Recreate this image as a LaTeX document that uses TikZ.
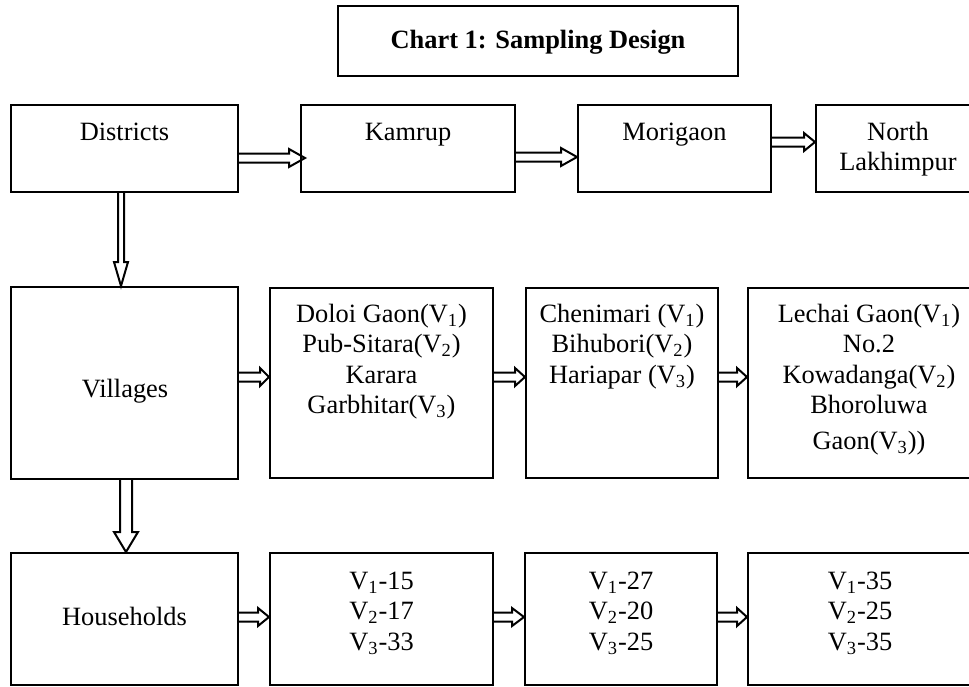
\documentclass[tikz,border=0pt]{standalone}
\usepackage{fontspec}
\setmainfont{Liberation Serif}
\usetikzlibrary{calc}
\newcommand\fl{\rule{0pt}{10pt}}
\newcommand\sbs[1]{\textsubscript{#1}}
\newcommand\rectnode[5]{%
  \node[boxst, minimum width={(#4-#2)*0.5pt}, minimum height={(#5-#3)*0.5pt}] (#1) at ({(#2+#4)/2},{(#3+#5)/2}) {};}
\begin{document}
\begin{tikzpicture}[x=0.5pt,y=-0.5pt,
  boxst/.style={draw, line width=1pt, inner sep=0pt},
  txt/.style={inner sep=0pt, align=center, font=\fontsize{13.2}{15.25}\selectfont, anchor=north},
  stxt/.style={inner sep=0pt, font=\fontsize{13.2}{15.25}\selectfont, anchor=base},
  blk/.style={draw, line width=1pt, line join=miter},
  harrow/.style n args={3}{to path={let \p1=(\tikztostart),\p2=(\tikztotarget) in
     (\x1,\y1+#1) -- (\x2-#3,\y1+#1) -- (\x2-#3,\y1+#2) -- (\x2,\y1) -- (\x2-#3,\y1-#2) -- (\x2-#3,\y1-#1) -- (\x1,\y1-#1)}},
  varrow/.style n args={3}{to path={let \p1=(\tikztostart),\p2=(\tikztotarget) in
     (\x1-#1,\y1) -- (\x1-#1,\y2+#3) -- (\x1-#2,\y2+#3) -- (\x1,\y2) -- (\x1+#2,\y2+#3) -- (\x1+#1,\y2+#3) -- (\x1+#1,\y1)}},
]
\clip (0,0) rectangle (969,686);
% title
\rectnode{title}{338}{6}{738}{76}
\node[stxt, font=\fontsize{13.2}{15.25}\selectfont\bfseries] (titletext) at (538,48) {Chart 1: Sampling Design};
% top row
\rectnode{dist}{11}{105}{238}{192}
\rectnode{kam}{301}{105}{515}{192}
\rectnode{mor}{578}{105}{771}{192}
\rectnode{nl}{816}{105}{980}{192}
\node[txt] (distt) at (124.5,120) {\fl Districts};
\node[txt] (kamt) at (408,120) {\fl Kamrup};
\node[txt] (mort) at (674.5,120) {\fl Morigaon};
\node[txt] (nlt) at (898,120) {\fl North\\Lakhimpur};
% middle row
\rectnode{vil}{11}{287}{238}{479}
\rectnode{dol}{270}{288}{493}{478}
\rectnode{che}{526}{288}{718}{478}
\rectnode{lec}{748}{288}{990}{478}
\node[stxt] (vilt) at (125,397) {Villages};
\node[txt] (dolt) at (381.5,302) {\fl Doloi Gaon(V\sbs{1})\\Pub-Sitara(V\sbs{2})\\Karara\\Garbhitar(V\sbs{3})};
\node[txt] (chet) at (622,302) {\fl Chenimari (V\sbs{1})\\Bihubori(V\sbs{2})\\Hariapar (V\sbs{3})};
\node[txt] (lect) at (869,302) {\fl Lechai Gaon(V\sbs{1})\\No.2\\Kowadanga(V\sbs{2})\\Bhoroluwa\\[2.5pt]Gaon(V\sbs{3}))};
% bottom row
\rectnode{hh}{11}{553}{238}{685}
\rectnode{ka}{270}{553}{493}{685}
\rectnode{mo}{525}{553}{717}{685}
\rectnode{no}{748}{553}{972}{685}
\node[stxt] (hht) at (124.5,625) {Households};
\node[txt] (kat) at (381.5,569) {\fl V\sbs{1}-15\\V\sbs{2}-17\\V\sbs{3}-33};
\node[txt] (mot) at (621,569) {\fl V\sbs{1}-27\\V\sbs{2}-20\\V\sbs{3}-25};
\node[txt] (not) at (860,569) {\fl V\sbs{1}-35\\V\sbs{2}-25\\V\sbs{3}-35};
% horizontal arrows
\draw[blk] ([yshift=-4.75pt]dist.east) to[harrow={2.25pt}{4.5pt}{8pt}] ([yshift=-4.75pt,xshift=2.5pt]kam.west);
\draw[blk] ([yshift=-4.25pt]kam.east) to[harrow={2.25pt}{4.5pt}{8pt}] ([yshift=-4.25pt]mor.west);
\draw[blk] ([yshift=3.25pt]mor.east) to[harrow={2.25pt}{4.5pt}{5.5pt}] ([yshift=3.25pt]nl.west);
\draw[blk] ([yshift=3pt]vil.east) to[harrow={2.25pt}{4.5pt}{4.5pt}] ([yshift=3pt]dol.west);
\draw[blk] ([yshift=3pt]dol.east) to[harrow={2.25pt}{4.5pt}{5pt}] ([yshift=3pt]che.west);
\draw[blk] ([yshift=3pt]che.east) to[harrow={2.25pt}{4.5pt}{5pt}] ([yshift=3pt]lec.west);
\draw[blk] ([yshift=1pt]hh.east) to[harrow={2.25pt}{4.5pt}{5.5pt}] ([yshift=1pt]ka.west);
\draw[blk] ([yshift=1pt]ka.east) to[harrow={2.25pt}{4.5pt}{6pt}] ([yshift=1pt]mo.west);
\draw[blk] ([yshift=1pt]mo.east) to[harrow={2.25pt}{4.5pt}{5pt}] ([yshift=1pt]no.west);
% vertical arrows
\draw[blk] ([xshift=-1.75pt]dist.south) to[varrow={1.5pt}{3.5pt}{12pt}] ([xshift=-1.75pt]vil.north);
\draw[blk] ([xshift=0.75pt]vil.south) to[varrow={3pt}{6pt}{10pt}] ([xshift=0.75pt]hh.north);
\end{tikzpicture}
\end{document}
